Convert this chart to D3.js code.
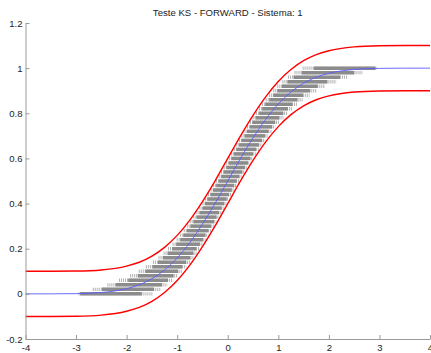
<!DOCTYPE html>
<html>
<head>
<meta charset="utf-8">
<script src="https://cdn.jsdelivr.net/npm/d3@7"></script>
<style>
  body { margin: 0; background: #fff; }
  text { font-family: "Liberation Sans", Arial, sans-serif; }
</style>
</head>
<body>
<div id="vis"></div>
<script>
// values
var xs      = [-4, -3.5, -3, -2.5, -2, -1.75, -1.5, -1.25, -1, -0.75, -0.5, -0.25, 0, 0.25, 0.5, 0.75, 1, 1.25, 1.5, 1.75, 2, 2.5, 3, 3.5, 4];
var cdf     = [0, 0, 0.001, 0.006, 0.023, 0.04, 0.067, 0.106, 0.159, 0.227, 0.309, 0.401, 0.5, 0.599, 0.691, 0.773, 0.841, 0.894, 0.933, 0.96, 0.977, 0.994, 0.999, 1, 1];
var upper   = [0.1, 0.1, 0.101, 0.106, 0.123, 0.14, 0.167, 0.206, 0.259, 0.327, 0.409, 0.501, 0.6, 0.699, 0.791, 0.873, 0.941, 0.994, 1.033, 1.06, 1.077, 1.094, 1.099, 1.1, 1.1];
var lower   = [-0.1, -0.1, -0.099, -0.094, -0.077, -0.06, -0.033, 0.006, 0.059, 0.127, 0.209, 0.301, 0.4, 0.499, 0.591, 0.673, 0.741, 0.794, 0.833, 0.86, 0.877, 0.894, 0.899, 0.9, 0.9];
// vertical half-spread of the simulated empirical CDFs (dense core / sparse fringe)
var coreSpread   = [0, 0, 0, 0.014, 0.034, 0.044, 0.052, 0.06, 0.066, 0.071, 0.074, 0.075, 0.075, 0.075, 0.074, 0.071, 0.066, 0.06, 0.052, 0.044, 0.034, 0.014, 0, 0, 0];
var fringeSpread = [0, 0, 0, 0.024, 0.05, 0.062, 0.07, 0.078, 0.085, 0.09, 0.093, 0.094, 0.094, 0.094, 0.093, 0.09, 0.085, 0.078, 0.07, 0.062, 0.05, 0.024, 0, 0, 0];
var ecdfN = 50; // step height of the empirical CDFs
var xTicks = [-4, -3, -2, -1, 0, 1, 2, 3, 4];
var yTicks = [-0.2, 0, 0.2, 0.4, 0.6, 0.8, 1, 1.2];
var title = "Teste KS - FORWARD - Sistema: 1";

const WIDTH = 431;
const HEIGHT = 353;

var x = d3.scaleLinear().domain([-4, 4]).range([25.5, 430]);
var y = d3.scaleLinear().domain([-0.2, 1.2]).range([339, 23]);

var svg = d3.select("#vis").append("svg")
    .attr("width", WIDTH)
    .attr("height", HEIGHT);

function valueAt(arr, xv) {
    var i = d3.bisectRight(xs, xv) - 1;
    if (i < 0) return arr[0];
    if (i >= xs.length - 1) return arr[arr.length - 1];
    var t = (xv - xs[i]) / (xs[i + 1] - xs[i]);
    return arr[i] + t * (arr[i + 1] - arr[i]);
}

// horizontal rows of the empirical CDF cloud, one per step level
function rows(spread) {
    var out = [];
    var step = (x.domain()[1] - x.domain()[0]) / 800;
    for (var k = 0; k <= ecdfN; k++) {
        var level = k / ecdfN;
        var lo = null, hi = null;
        for (var xv = -4; xv <= 4; xv += step) {
            var c = valueAt(cdf, xv), s = valueAt(spread, xv);
            if (s < 0.002) continue;
            if (c - s <= level && level <= c + s) {
                if (lo === null) lo = xv;
                hi = xv;
            }
        }
        if (lo !== null) out.push({level: level, x0: lo, x1: hi});
    }
    return out;
}

function drawRows(cls, data, color, width, dash) {
    svg.append("g").selectAll("line")
        .data(data)
        .enter().append("line")
        .attr("class", cls)
        .attr("x1", function (d) { return x(d.x0); })
        .attr("x2", function (d) { return x(d.x1); })
        .attr("y1", function (d) { return y(d.level); })
        .attr("y2", function (d) { return y(d.level); })
        .attr("stroke", color)
        .attr("stroke-width", width)
        .attr("stroke-dasharray", dash);
}

drawRows("fringe", rows(fringeSpread), "#b0b0b0", 3.4, "1 1");
drawRows("core", rows(coreSpread), "#8c8c8c", 3.5, null);

var line = function (arr) {
    return d3.line()
        .x(function (d, i) { return x(xs[i]); })
        .y(function (d) { return y(d); })
        .curve(d3.curveMonotoneX)(arr);
};

svg.append("path").attr("d", line(cdf))
    .attr("fill", "none").attr("stroke", "#5a5aff").attr("stroke-width", 0.9);
svg.append("path").attr("d", line(upper))
    .attr("fill", "none").attr("stroke", "#ff0000").attr("stroke-width", 1.4);
svg.append("path").attr("d", line(lower))
    .attr("fill", "none").attr("stroke", "#ff0000").attr("stroke-width", 1.4);

// axes, MATLAB style: ticks pointing inward, no box
var xAxis = svg.append("g")
    .attr("transform", "translate(0," + y(-0.2) + ")")
    .call(d3.axisBottom(x).tickValues(xTicks).tickSize(-4).tickSizeOuter(0).tickPadding(5)
        .tickFormat(function (d) { return String(d); }));
var yAxis = svg.append("g")
    .attr("transform", "translate(" + x(-4) + ",0)")
    .call(d3.axisLeft(y).tickValues(yTicks).tickSize(-4).tickSizeOuter(0).tickPadding(3)
        .tickFormat(function (d) { return String(d); }));

[xAxis, yAxis].forEach(function (a) {
    a.select(".domain").attr("stroke", "#9a9a9a");
    a.selectAll(".tick line").attr("stroke", "#9a9a9a");
    a.selectAll(".tick text")
        .attr("fill", "#222")
        .style("font-size", "9.5px")
        .style("font-family", "'Liberation Sans', Arial, sans-serif");
});

svg.append("text")
    .attr("x", x(0))
    .attr("y", 16)
    .attr("text-anchor", "middle")
    .attr("fill", "#222")
    .style("font-size", "9.6px")
    .text(title);
</script>
</body>
</html>
